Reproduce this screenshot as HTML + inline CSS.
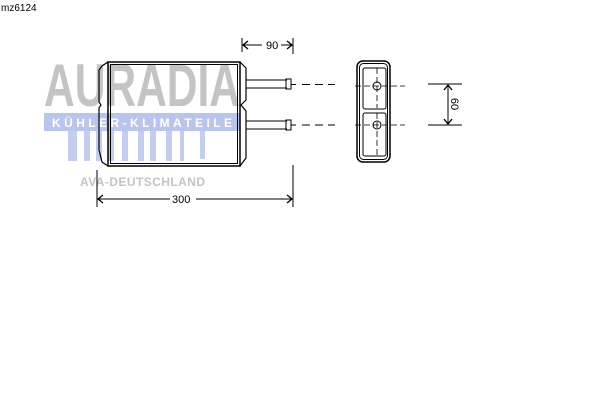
<!DOCTYPE html>
<html><head><style>body{margin:0;background:#fff}svg{display:block}</style></head>
<body>
<svg width="600" height="400" viewBox="0 0 600 400" xmlns="http://www.w3.org/2000/svg" font-family="Liberation Sans, sans-serif">
<rect width="600" height="400" fill="#fff"/>
<text x="1" y="11" font-size="10" fill="#000">mz6124</text>
<!-- logo -->
<text x="44" y="106" font-size="60" font-weight="bold" fill="#c4c4c4" textLength="196" lengthAdjust="spacingAndGlyphs">AURADIA</text>
<rect x="44" y="113" width="196" height="18" fill="#b8c5ec"/>
<text x="52" y="127" font-size="12" font-weight="bold" fill="#fff" textLength="180" lengthAdjust="spacing">KÜHLER-KLIMATEILE</text>
<g fill="#c2cdf0">
<rect x="68" y="131" width="9" height="30"/><rect x="84" y="131" width="6" height="30"/>
<rect x="96" y="131" width="6" height="30"/><rect x="108" y="131" width="6" height="30"/>
<rect x="122" y="131" width="6" height="30"/><rect x="138" y="131" width="6" height="30"/>
<rect x="150" y="131" width="6" height="30"/><rect x="166" y="131" width="6" height="30"/>
<rect x="180" y="131" width="4" height="30"/><rect x="200" y="131" width="5" height="28"/>
</g>
<text x="80" y="186" font-size="12" font-weight="bold" fill="#c4c4c4" textLength="125" lengthAdjust="spacing">AVA-DEUTSCHLAND</text>
<!-- core -->
<g fill="none" stroke="#000">
<rect x="108" y="62" width="132" height="104" stroke-width="1.5"/>
<rect x="110.5" y="64.5" width="127" height="99" stroke-width="1"/>
<path d="M108 62 L102 66 L99 70 L99 102 L101 105 L99 108 L99 150 L102 162 L108 166" stroke-width="1.2"/>
<path d="M240 62 L246 68 L246 100 L241 105 L246 111 L246 158 L240 166" stroke-width="1.2"/>
<path d="M246 80 H287 M246 88 H287 M246 121 H287 M246 129 H287"/>
<rect x="286" y="79" width="5" height="10"/><rect x="286" y="120" width="5" height="10"/>
<path d="M291 84.5 H296 M291 125 H296"/>
<path d="M302 84.5 H335 M302 125 H335" stroke-dasharray="8,5"/>
<!-- dims -->
<path d="M242 38 V52 M293 38 V54 M293 165 V207 M97 170 V207"/>
<path d="M243 45 H262 M281 45 H292 M98 199 H170 M196 199 H292"/>
<path d="M248 41 L243 45 L248 49 M287 41 L292 45 L287 49 M103 195 L98 199 L103 203 M287 195 L292 199 L287 203" stroke-width="1.3"/>
<!-- side view -->
<rect x="357" y="61" width="33" height="101" rx="6" stroke-width="1.5"/>
<rect x="359.5" y="63.5" width="28" height="96" rx="4"/>
<rect x="363" y="68" width="23" height="41" rx="2"/>
<rect x="363" y="113" width="23" height="43" rx="2"/>
<circle cx="377" cy="86" r="4"/><circle cx="377" cy="125" r="4"/>
<path d="M355 86 H405 M355 125 H405 M377 68 V108 M377 113 V155" stroke-dasharray="6,3" stroke-width="0.8"/>
<path d="M428 84 H462 M428 125 H462 M448 86 V123"/>
<path d="M444 90 L448 85 L452 90 M444 119 L448 124 L452 119" stroke-width="1.3"/>
</g>
<text x="266" y="49" font-size="11" fill="#000">90</text>
<text x="172" y="203" font-size="11" fill="#000">300</text>
<text transform="translate(451,104) rotate(90)" font-size="11" fill="#000" text-anchor="middle">60</text>
</svg>
</body></html>
